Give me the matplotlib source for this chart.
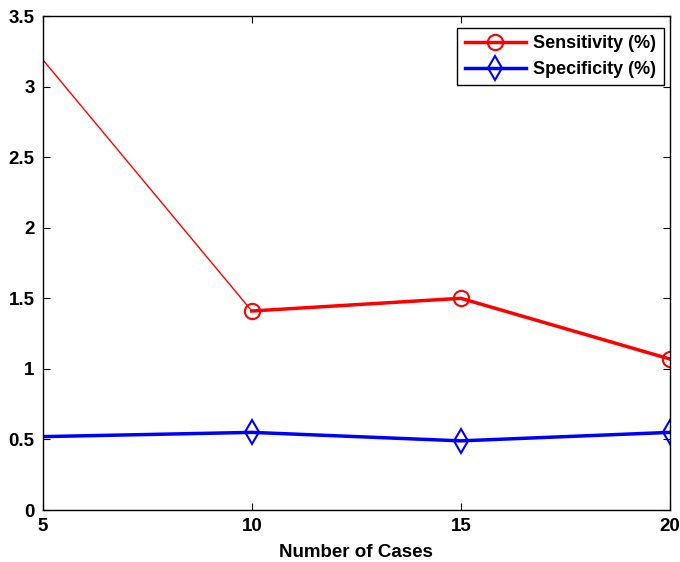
import matplotlib
matplotlib.use("Agg")
import matplotlib.pyplot as plt

cases = [5, 10, 15, 20]
sensitivity = [3.19, 1.41, 1.50, 1.07]
specificity = [0.52, 0.55, 0.49, 0.55]

plt.rcParams["font.family"] = ["Liberation Sans", "DejaVu Sans"]
plt.rcParams["font.weight"] = "bold"

fig = plt.figure(figsize=(6.8, 5.62), dpi=100)
ax = fig.add_axes([0.063, 0.0925, 0.922, 0.879])

# first red segment is drawn thin in the original
ax.plot(cases[:2], sensitivity[:2], color="red", lw=1)
ax.plot(cases[1:], sensitivity[1:], color="red", lw=2.5, marker="o",
        markersize=11, markerfacecolor="none", markeredgewidth=1.5,
        label="Sensitivity (%)")
ax.plot(cases, specificity, color="blue", lw=2.5, marker="d",
        markersize=12, markerfacecolor="none", markeredgewidth=1.5,
        markevery=[1, 2, 3], label="Specificity (%)")

ax.set_xlim(5, 20)
ax.set_ylim(0, 3.5)
ax.set_xticks(cases)
ax.set_yticks([0, 0.5, 1, 1.5, 2, 2.5, 3, 3.5])
ax.set_yticklabels(["0", "0.5", "1", "1.5", "2", "2.5", "3", "3.5"])
ax.tick_params(direction="in", top=True, right=True, labelsize=13.5,
               length=5, pad=6)
for s in ax.spines.values():
    s.set_linewidth(1)
ax.set_xlabel("Number of Cases", fontsize=13.5, fontweight="bold", labelpad=6)

leg = ax.legend(loc="upper right", fontsize=13, fancybox=False, framealpha=1,
                edgecolor="black", handlelength=3.4, borderpad=0.4,
                labelspacing=0.5, handletextpad=0.4, borderaxespad=0,
                bbox_to_anchor=(0.990, 0.976))
leg.get_frame().set_linewidth(1)

fig.savefig("out.png", dpi=100)
